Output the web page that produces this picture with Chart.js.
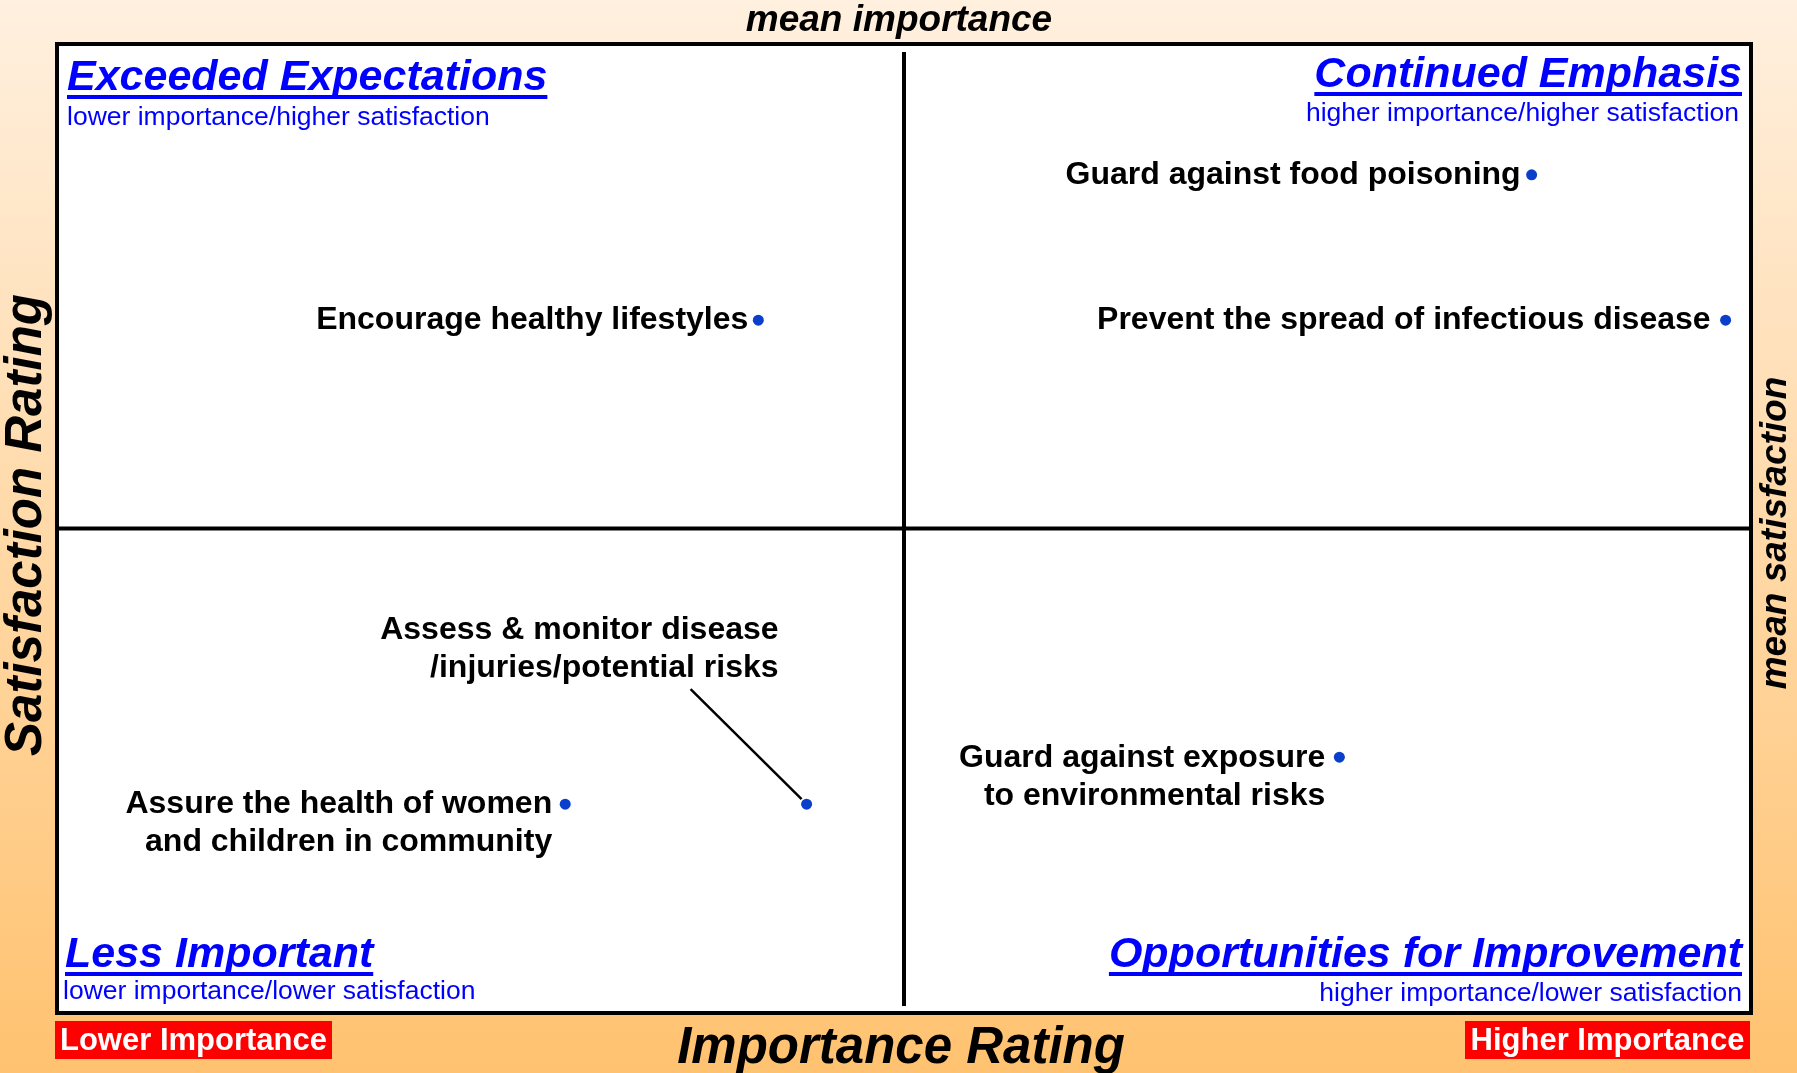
<!DOCTYPE html>
<html>
<head>
<meta charset="utf-8">
<title>Importance vs Satisfaction</title>
<script src="https://cdn.jsdelivr.net/npm/chart.js@4.4.1/dist/chart.umd.min.js"></script>
<style>
    html, body { margin: 0; padding: 0; background: #fff; }
    #quadChart { display: block; }
</style>
</head>
<body>
<canvas id="quadChart" width="1797" height="1073"></canvas>
<script>
/* ================= DATA ================= */
const pointLabels = [
    ['Guard against food poisoning'],
    ['Prevent the spread of infectious disease'],
    ['Encourage healthy lifestyles'],
    ['Assess & monitor disease', '/injuries/potential risks'],
    ['Assure the health of women', 'and children in community'],
    ['Guard against exposure', 'to environmental risks']
];
const importance   = [4.741, 4.970, 3.828, 3.885, 3.600, 4.514];
const satisfaction = [3.730, 3.430, 3.430, 2.431, 2.431, 2.528];

const importanceRange   = [3.0, 5.0];
const satisfactionRange = [2.0, 4.0];
const meanImportance    = 4.0;
const meanSatisfaction  = 3.0;

// label placement relative to its dot: [dx of right edge, dy of first line]
const labelOffsets = [[-11, 0], [-15, 0], [-10, 0], [-28, -174], [-13, 0], [-14, 1]];
const leaderIndex = 3;

const FONT = "'Liberation Sans', Arial, sans-serif";
const BLUE = '#0000ff';

/* ================= HELPERS ================= */
function drawText(ctx, text, x, y, font, color, align, baseline) {
    ctx.font = font;
    ctx.fillStyle = color;
    ctx.textAlign = align || 'left';
    ctx.textBaseline = baseline || 'alphabetic';
    ctx.fillText(text, x, y);
}

function drawTitle(ctx, text, x, baseY, align) {
    const font = 'italic bold 43px ' + FONT;
    drawText(ctx, text, x, baseY, font, BLUE, align);
    const w = ctx.measureText(text).width;
    const left = align === 'right' ? x - w : x;
    ctx.fillStyle = BLUE;
    ctx.fillRect(left, baseY + 5, w, 4);
}

function drawTag(ctx, text, x, y, w, h) {
    ctx.fillStyle = '#ff0000';
    ctx.fillRect(x, y, w, h);
    drawText(ctx, text, x + w / 2, y + h / 2 + 1, 'bold 31px ' + FONT, '#ffffff', 'center', 'middle');
}

/* ================= PLUGIN: BACKGROUND & FRAME ================= */
const quadrantPlugin = {
    id: 'quadrants',
    beforeDraw(chart) {
        const { ctx, chartArea: a, width, height } = chart;
        ctx.save();
        const g = ctx.createLinearGradient(0, 0, 0, height);
        g.addColorStop(0, '#fff0df');
        g.addColorStop(1, '#ffc270');
        ctx.fillStyle = g;
        ctx.fillRect(0, 0, width, height);
        ctx.fillStyle = '#ffffff';
        ctx.fillRect(a.left, a.top, a.right - a.left, a.bottom - a.top);
        ctx.restore();
    },
    beforeDatasetsDraw(chart) {
        const { ctx, chartArea: a, scales } = chart;
        const mx = scales.x.getPixelForValue(meanImportance);
        const my = scales.y.getPixelForValue(meanSatisfaction);
        ctx.save();
        ctx.strokeStyle = '#000';
        ctx.lineWidth = 4;
        ctx.beginPath();
        ctx.moveTo(mx, a.top + 8);
        ctx.lineTo(mx, a.bottom - 7);
        ctx.moveTo(a.left, my);
        ctx.lineTo(a.right, my);
        ctx.stroke();
        ctx.strokeRect(a.left, a.top, a.right - a.left, a.bottom - a.top);
        ctx.restore();
    },
    afterDatasetsDraw(chart) {
        const { ctx, chartArea: a, width } = chart;
        const meta = chart.getDatasetMeta(0);
        ctx.save();

        // point labels
        meta.data.forEach((pt, i) => {
            const [dx, dy] = labelOffsets[i];
            pointLabels[i].forEach((line, j) => {
                drawText(ctx, line, pt.x + dx, pt.y + dy + j * 38, 'bold 32px ' + FONT, '#000', 'right', 'middle');
            });
        });

        // leader line for the label placed away from its dot
        const lp = meta.data[leaderIndex];
        ctx.strokeStyle = '#000';
        ctx.lineWidth = 2.5;
        ctx.beginPath();
        ctx.moveTo(lp.x - 116, lp.y - 115);
        ctx.lineTo(lp.x - 5, lp.y - 5);
        ctx.stroke();

        // quadrant titles
        drawTitle(ctx, 'Exceeded Expectations', a.left + 10, 90, 'left');
        drawText(ctx, 'lower importance/higher satisfaction', a.left + 10, 125, '26.5px ' + FONT, BLUE, 'left');
        drawTitle(ctx, 'Continued Emphasis', a.right - 9, 87, 'right');
        drawText(ctx, 'higher importance/higher satisfaction', a.right - 12, 121, '26.5px ' + FONT, BLUE, 'right');
        drawTitle(ctx, 'Less Important', a.left + 8, 967, 'left');
        drawText(ctx, 'lower importance/lower satisfaction', a.left + 6, 999, '26.5px ' + FONT, BLUE, 'left');
        drawTitle(ctx, 'Opportunities for Improvement', a.right - 9, 967, 'right');
        drawText(ctx, 'higher importance/lower satisfaction', a.right - 9, 1001, '26.5px ' + FONT, BLUE, 'right');

        // axis titles
        drawText(ctx, 'mean importance', 899, 31, 'italic bold 37px ' + FONT, '#000', 'center');
        drawText(ctx, 'Importance Rating', 901, 1063, 'italic bold 51px ' + FONT, '#000', 'center');

        ctx.save();
        ctx.translate(27, 525);
        ctx.rotate(-Math.PI / 2);
        drawText(ctx, 'Satisfaction Rating', 0, 0, 'italic bold 51px ' + FONT, '#000', 'center', 'middle');
        ctx.restore();

        ctx.save();
        ctx.translate(width - 21, 533);
        ctx.rotate(-Math.PI / 2);
        drawText(ctx, 'mean satisfaction', 0, 0, 'italic bold 37px ' + FONT, '#000', 'center', 'middle');
        ctx.restore();

        drawTag(ctx, 'Lower Importance', 55, 1021, 277, 38);
        drawTag(ctx, 'Higher Importance', 1465, 1021, 285, 38);

        ctx.restore();
    }
};

/* ================= CHART ================= */
function renderQuadrantChart() {
    const ctx = document.getElementById('quadChart');
    new Chart(ctx, {
        type: 'scatter',
        data: {
            datasets: [{
                data: importance.map((v, i) => ({ x: v, y: satisfaction[i] })),
                backgroundColor: '#0a3fcc',
                borderWidth: 0,
                pointRadius: 5.5
            }]
        },
        options: {
            responsive: false,
            animation: false,
            devicePixelRatio: 1,
            layout: { padding: { left: 57, top: 44, right: 46, bottom: 60 } },
            plugins: { legend: { display: false }, tooltip: { enabled: false } },
            scales: {
                x: { type: 'linear', min: importanceRange[0], max: importanceRange[1], display: false },
                y: { type: 'linear', min: satisfactionRange[0], max: satisfactionRange[1], display: false }
            }
        },
        plugins: [quadrantPlugin]
    });
}

renderQuadrantChart();
</script>
</body>
</html>
